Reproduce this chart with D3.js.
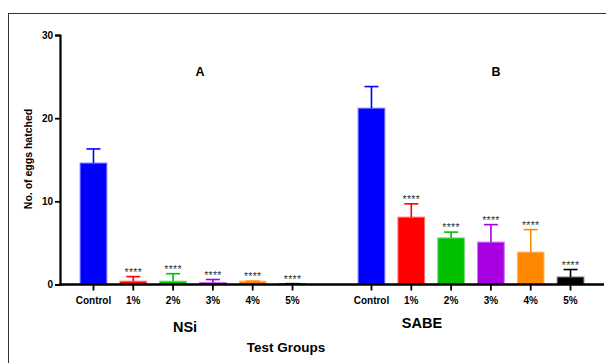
<!DOCTYPE html>
<html>
<head>
<meta charset="utf-8">
<script src="https://cdn.jsdelivr.net/npm/d3@7"></script>
<style>
  body { margin: 0; background: #fff; }
  text { font-family: Arial, "Liberation Sans", sans-serif; }
</style>
</head>
<body>
<div class="chart"></div>
<script>
// data
var groups = ["NSi", "SABE"];
var panels = ["A", "B"];
var categories = ["Control", "1%", "2%", "3%", "4%", "5%"];
var nsiMeans = [14.6, 0.4, 0.4, 0.25, 0.4, 0.1];
var nsiErr   = [1.7, 0.55, 0.9, 0.35, 0.0, 0.0];
var sabeMeans = [21.2, 8.1, 5.6, 5.1, 3.9, 0.9];
var sabeErr   = [2.6, 1.6, 0.7, 2.1, 2.7, 0.9];
var colors = ["#0000ff", "#ff0000", "#00c000", "#a800e0", "#ff8800", "#000000"];
var yTicks = [0, 10, 20, 30];

var width = 606, height = 363;

var svg = d3.select(".chart").append("svg")
    .attr("width", width)
    .attr("height", height);

// outer frame
svg.append("rect")
    .attr("x", 8.5).attr("y", 13.5)
    .attr("width", 620).attr("height", 380)
    .attr("fill", "none")
    .attr("stroke", "#333")
    .attr("stroke-width", 1);

var yScale = d3.scaleLinear().domain([0, 30]).range([284.5, 35]);

var outer = d3.scaleBand().domain(groups).range([67, 597]).paddingInner(0.0935);
var inner = d3.scaleBand().domain(categories).range([0, outer.bandwidth()]).padding(0.33);

var data = [];
groups.forEach(function(g, gi) {
    var means = gi == 0 ? nsiMeans : sabeMeans;
    var errs = gi == 0 ? nsiErr : sabeErr;
    categories.forEach(function(c, i) {
        data.push({group: g, cat: c, mean: means[i], err: errs[i], color: colors[i]});
    });
});

function cx(d) { return outer(d.group) + inner(d.cat) + inner.bandwidth() / 2; }

// bars
svg.selectAll(".bar").data(data).enter().append("rect")
    .attr("class", "bar")
    .attr("x", function(d) { return outer(d.group) + inner(d.cat); })
    .attr("y", function(d) { return yScale(d.mean); })
    .attr("width", inner.bandwidth())
    .attr("height", function(d) { return yScale(0) - yScale(d.mean); })
    .attr("fill", function(d) { return d.color; })
    .attr("stroke", function(d) { return d3.interpolateRgb(d.color, "#fff")(0.45); })
    .attr("stroke-width", 1);

// error bars (upper only)
var eb = svg.selectAll(".err").data(data).enter().append("g")
    .attr("stroke", function(d) { return d.color; })
    .attr("stroke-width", 1.6);
eb.append("line")
    .attr("x1", cx).attr("x2", cx)
    .attr("y1", function(d) { return yScale(d.mean); })
    .attr("y2", function(d) { return yScale(d.mean + d.err); });
eb.append("line")
    .attr("x1", function(d) { return cx(d) - 7; })
    .attr("x2", function(d) { return cx(d) + 7; })
    .attr("y1", function(d) { return yScale(d.mean + d.err); })
    .attr("y2", function(d) { return yScale(d.mean + d.err); });

// significance stars
svg.selectAll(".star").data(data.filter(function(d) { return d.cat != "Control"; }))
    .enter().append("text")
    .attr("x", cx)
    .attr("y", function(d) { return yScale(d.mean + d.err) - 1; })
    .attr("text-anchor", "middle")
    .attr("font-size", 10.5)
    .attr("fill", "#333")
    .attr("letter-spacing", 0.3)
    .text("****");

// y axis
var yAxis = svg.append("g")
    .attr("transform", "translate(60,0)")
    .call(d3.axisLeft(yScale).tickValues(yTicks).tickSize(5).tickPadding(2));
yAxis.select(".domain").attr("stroke", "#000").attr("stroke-width", 2.2);
yAxis.selectAll(".tick line").attr("stroke", "#000").attr("stroke-width", 1.8);
yAxis.selectAll(".tick text")
    .attr("font-size", 10).attr("font-weight", "bold").attr("fill", "#000")
    .attr("font-family", "Arial, 'Liberation Sans', sans-serif");

// x axis line
svg.append("line")
    .attr("x1", 59).attr("x2", 604)
    .attr("y1", yScale(0)).attr("y2", yScale(0))
    .attr("stroke", "#000").attr("stroke-width", 2.4);

// x ticks and labels
svg.selectAll(".xt").data(data).enter().append("line")
    .attr("x1", cx).attr("x2", cx)
    .attr("y1", yScale(0)).attr("y2", yScale(0) + 6)
    .attr("stroke", "#000").attr("stroke-width", 1.8);
svg.selectAll(".xl").data(data).enter().append("text")
    .attr("x", cx)
    .attr("y", 304)
    .attr("text-anchor", "middle")
    .attr("font-size", 10).attr("font-weight", "bold")
    .text(function(d) { return d.cat; });

// group labels
svg.selectAll(".gl").data(groups).enter().append("text")
    .attr("x", function(d, i) { return i == 0 ? 185 : 422; })
    .attr("y", function(d, i) { return i == 0 ? 332 : 328; })
    .attr("text-anchor", "middle")
    .attr("font-size", 14.5).attr("font-weight", "bold")
    .text(function(d) { return d; });

// panel letters
svg.selectAll(".pl").data(panels).enter().append("text")
    .attr("x", function(d, i) { return i == 0 ? 200 : 496; })
    .attr("y", 76)
    .attr("text-anchor", "middle")
    .attr("font-size", 12.5).attr("font-weight", "bold")
    .text(function(d) { return d; });

// axis titles
svg.append("text")
    .attr("x", 286).attr("y", 352)
    .attr("text-anchor", "middle")
    .attr("font-size", 13.5).attr("font-weight", "bold")
    .text("Test Groups");

svg.append("text")
    .attr("transform", "translate(32,159) rotate(-90)")
    .attr("text-anchor", "middle")
    .attr("font-size", 10.5).attr("font-weight", "bold")
    .text("No. of eggs hatched");
</script>
</body>
</html>
